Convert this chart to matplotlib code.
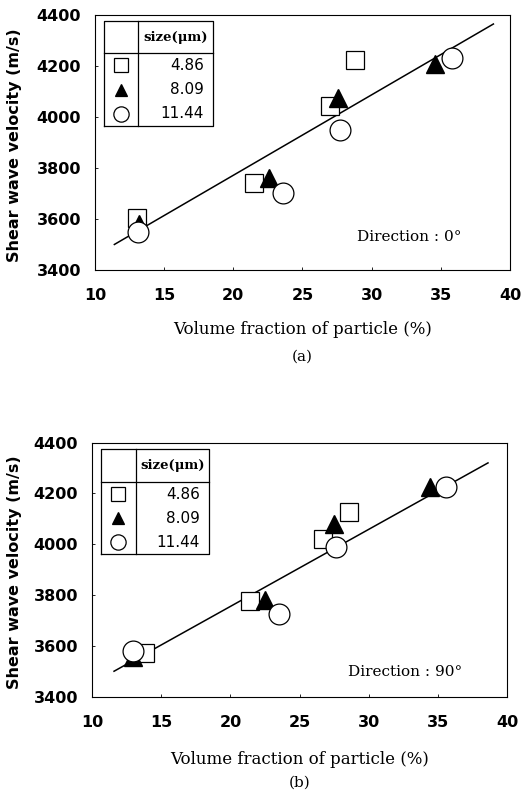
import numpy as np
import matplotlib
matplotlib.use("Agg")
import matplotlib.pyplot as plt

# Particle sizes (legend) and marker styles
sizes = ["4.86", "8.09", "11.44"]

# (a) Direction 0 deg
a_sq_x = [13.0, 21.5, 27.0, 28.8]
a_sq_y = [3605, 3740, 4045, 4225]
a_tr_x = [13.2, 22.6, 27.6, 34.6]
a_tr_y = [3580, 3760, 4075, 4210]
a_ci_x = [13.1, 23.6, 27.7, 35.8]
a_ci_y = [3550, 3700, 3950, 4230]
a_fit_x = [11.4, 38.8]
a_fit_y = [3500, 4365]

# (b) Direction 90 deg
b_sq_x = [13.8, 21.4, 26.7, 28.6]
b_sq_y = [3570, 3775, 4020, 4125]
b_tr_x = [13.0, 22.5, 27.5, 34.4]
b_tr_y = [3555, 3780, 4080, 4225]
b_ci_x = [13.0, 23.5, 27.6, 35.6]
b_ci_y = [3580, 3725, 3990, 4225]
b_fit_x = [11.6, 38.6]
b_fit_y = [3500, 4320]

x_ticks = [10, 15, 20, 25, 30, 35, 40]
y_ticks = [3400, 3600, 3800, 4000, 4200, 4400]

SANS = "DejaVu Sans"
SERIF = "DejaVu Serif"

fig = plt.figure(figsize=(5.22, 7.94), dpi=100)


def panel(rect, sq, tr, ci, fit, direction, tag, tbl, ylab_x, xlab_y, tag_y):
    ax = fig.add_axes(rect)
    ax.set_xlim(10, 40)
    ax.set_ylim(3400, 4400)
    ax.set_xticks(x_ticks)
    ax.set_yticks(y_ticks)
    ax.tick_params(direction="in", length=2, width=0.6, labelsize=11.5)
    ax.tick_params(axis="x", pad=13)
    ax.tick_params(axis="y", pad=10)
    for lab in ax.get_xticklabels() + ax.get_yticklabels():
        lab.set_fontfamily(SANS)
        lab.set_fontweight("bold")
    for s in ax.spines.values():
        s.set_linewidth(0.8)

    ax.plot(fit[0], fit[1], color="black", lw=1.1, zorder=2)
    ax.plot(sq[0], sq[1], ls="none", marker="s", ms=13, mfc="white",
            mec="black", mew=0.9, zorder=3)
    ax.plot(tr[0], tr[1], ls="none", marker="^", ms=13, mfc="black",
            mec="black", zorder=4)
    ax.plot(ci[0], ci[1], ls="none", marker="o", ms=15, mfc="white",
            mec="black", mew=0.9, zorder=5)

    ax.set_ylabel("Shear wave velocity (m/s)", fontsize=11.5, fontfamily=SANS,
                  fontweight="bold")
    ax.yaxis.set_label_coords(ylab_x, 0.49)
    ax.yaxis.label.set_va("center")
    ax.set_xlabel("Volume fraction of particle (%)", fontsize=12,
                  fontfamily=SERIF)
    ax.xaxis.set_label_coords(0.5, xlab_y)
    ax.xaxis.label.set_va("center")
    ax.text(0.5, tag_y, tag, transform=ax.transAxes, ha="center", va="center",
            fontsize=11, fontfamily=SERIF)
    ax.text(direction[1], direction[2], direction[0], transform=ax.transAxes,
            ha="left", va="center", fontsize=11, fontfamily=SERIF)

    # legend table
    l, r, d, t, h, b = tbl
    T = ax.transAxes
    kw = dict(color="black", lw=0.9, transform=T, zorder=6, clip_on=False)
    ax.plot([l, r, r, l, l], [b, b, t, t, b], **kw)
    ax.plot([d, d], [b, t], **kw)
    ax.plot([l, r], [h, h], **kw)
    ax.fill([l, r, r, l], [b, b, t, t], color="white", transform=T, zorder=5.5)
    ax.text((d + r) / 2, (t + h) / 2, "size(\u03bcm)", transform=T,
            ha="center", va="center", fontsize=9.5, fontfamily=SERIF,
            fontweight="bold", zorder=7)
    rows = np.linspace(h, b, 4)
    rows = (rows[:-1] + rows[1:]) / 2
    styles = [("s", "white", 9.5), ("^", "black", 9), ("o", "white", 11)]
    mx = (l + d) / 2
    for yy, (m, fc, ms), lab in zip(rows, styles, sizes):
        ax.plot([mx], [yy], marker=m, ms=ms, mfc=fc, mec="black", mew=0.9,
                transform=T, zorder=7, clip_on=False)
        ax.text(r - 0.022, yy, lab, transform=T, ha="right", va="center",
                fontsize=11, fontfamily=SANS, zorder=7)
    return ax


panel([0.182, 0.660, 0.795, 0.321],
      (a_sq_x, a_sq_y), (a_tr_x, a_tr_y), (a_ci_x, a_ci_y), (a_fit_x, a_fit_y),
      ("Direction : 0\u00b0", 0.631, 0.129), "(a)",
      (0.022, 0.284, 0.104, 0.976, 0.851, 0.565),
      -0.195, -0.235, -0.341)

panel([0.176, 0.1226, 0.796, 0.320],
      (b_sq_x, b_sq_y), (b_tr_x, b_tr_y), (b_ci_x, b_ci_y), (b_fit_x, b_fit_y),
      ("Direction : 90\u00b0", 0.617, 0.098), "(b)",
      (0.022, 0.282, 0.106, 0.974, 0.844, 0.561),
      -0.187, -0.249, -0.340)

fig.savefig("out.png", dpi=100)
